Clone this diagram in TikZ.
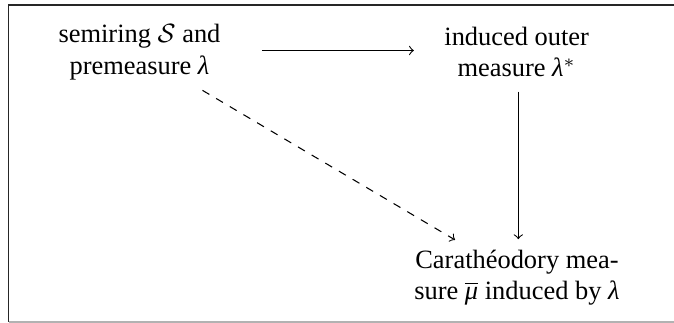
\documentclass[tikz,border=0pt]{standalone}
\usepackage{fontspec}
\setmainfont{Liberation Serif}
\usetikzlibrary{calc}
\newcommand\glam{\textit{λ}}
\newcommand\gmu{\mbox{\itshape μ}}
\begin{document}
\begin{tikzpicture}[x=0.3783pt,y=-0.3783pt,
  lbl/.style={align=center, inner sep=0pt, font=\fontsize{10}{12}\selectfont},
  arr/.style={->},
  darr/.style={->, dashed}]
\useasboundingbox (0,0) rectangle (674,323);
\draw[black!85] (674,5) -- (8.7,5) -- (8.7,322);
\draw[black!30] (8.7,322) -- (674,322);
\node[lbl] (A) at (139.5,52) {semiring $\mathcal{S}$ and\\premeasure \glam};
\node[lbl] (B) at (516.7,52) {induced outer\\measure \glam$^*$};
\node[lbl] (C) at (517,277.6) {Carath\'eodory mea-\\sure $\overline{\gmu}$ induced by \glam};
\draw[arr] ($(A.east)+(41,-1.5)$) -- ($(B.west)+(-30,-1.5)$);
\draw[arr] ($(B.south)+(1.6,14)$) -- ($(C.north)+(1.3,-10)$);
\draw[darr] ($(A.south)+(63,10)$) -- ($(C.north)+(-62,-9.3)$);
\end{tikzpicture}
\end{document}
